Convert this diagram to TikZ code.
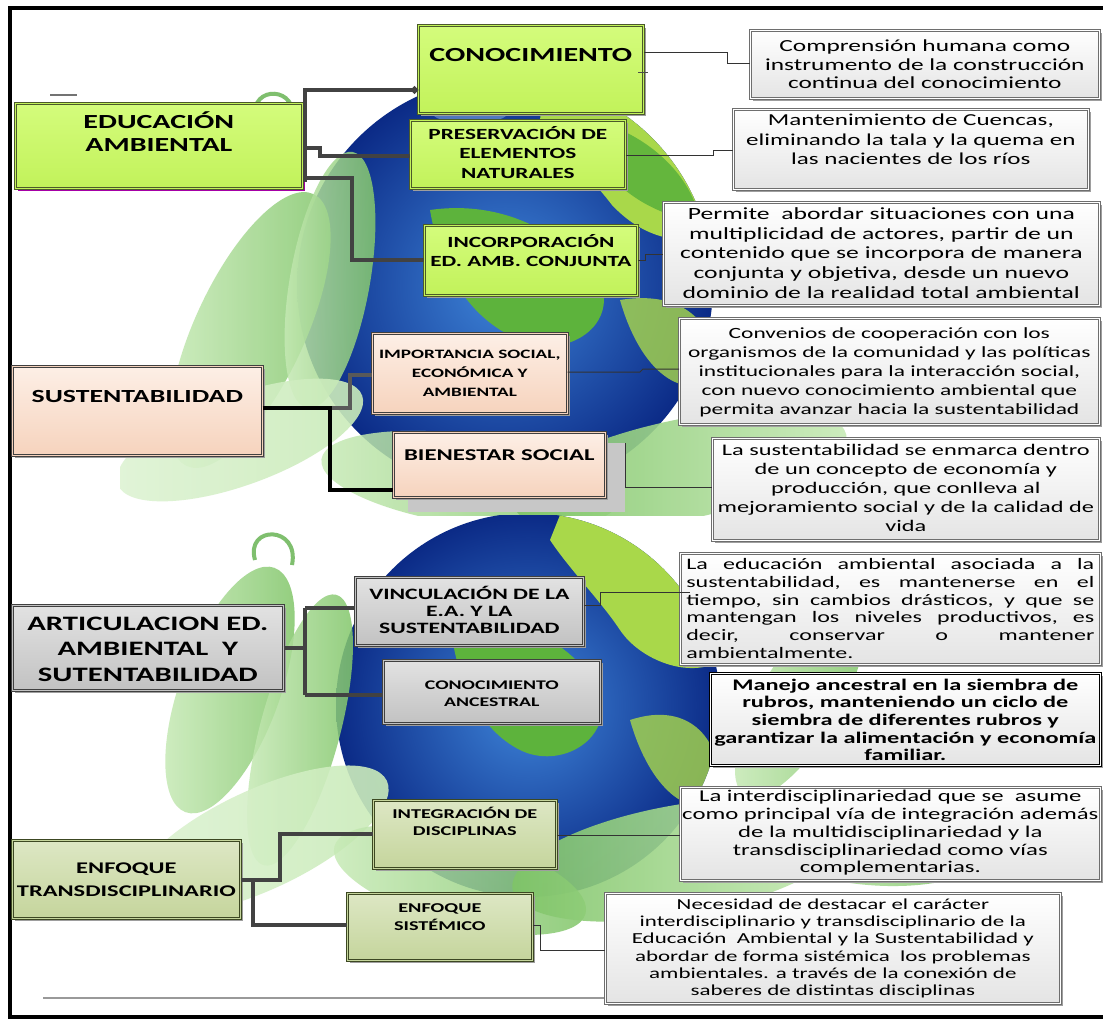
\documentclass[tikz,border=0pt]{standalone}
\usepackage{fontspec}
\setmainfont{Carlito}[FakeStretch=1.5]
\usetikzlibrary{arrows.meta,calc}
\definecolor{limeT}{HTML}{D4FC7C}
\definecolor{limeB}{HTML}{C2F25A}
\definecolor{gBorder}{HTML}{4B5A2A}
\definecolor{peachT}{HTML}{FDEFE6}
\definecolor{peachB}{HTML}{F6D3BD}
\definecolor{grayT}{HTML}{E2E2E2}
\definecolor{grayB}{HTML}{C2C2C2}
\definecolor{oliveT}{HTML}{DDE7C4}
\definecolor{oliveB}{HTML}{C5D59C}
\definecolor{calB}{HTML}{E4E4E4}
\definecolor{calBorder}{HTML}{6E6E6E}
\definecolor{connDark}{HTML}{424242}
\definecolor{globeIn}{HTML}{3F86DA}
\definecolor{globeOut}{HTML}{0B2A86}
\definecolor{landA}{HTML}{5DB33C}
\definecolor{landB}{HTML}{A9D84A}
\definecolor{leafA}{HTML}{C9EBB8}
\definecolor{leafB}{HTML}{7EC466}
\definecolor{leafC}{HTML}{5FAF4A}
\newcommand\rbox[6]{\node[#1, anchor=north west, minimum width={#4-#2}, minimum height={#5-#3}] (#6) at (#2,#3) {};}
\newcommand\fs[2]{\fontsize{#1}{#2}\selectfont}
\newcommand\jline[1]{\makebox[408pt][l]{#1}}
\begin{document}
\begin{tikzpicture}[x=1pt,y=-1pt,
  boxbase/.style={rectangle, inner sep=0pt, line width=0.7pt, double distance=1.4pt},
  shadowed/.style={preaction={fill=black!38, transform canvas={xshift=2.5pt,yshift=-2.5pt}}},
  greenbox/.style={boxbase, shadowed, draw=gBorder, double=limeB, top color=limeT, bottom color=limeB},
  peachbox/.style={boxbase, shadowed, draw=black!75, double=peachB, top color=peachT, bottom color=peachB},
  graybox/.style={boxbase, shadowed, draw=black!75, double=grayB, top color=grayT, bottom color=grayB},
  olivebox/.style={boxbase, shadowed, draw=gBorder!80!black, double=oliveB, top color=oliveT, bottom color=oliveB},
  callbox/.style={boxbase, shadowed, draw=calBorder, double=white, top color=white, bottom color=calB},
  txt/.style={inner sep=0pt, align=center, anchor=center},
  trunk/.style={line width=4pt, draw=connDark},
  thin/.style={line width=1pt, draw=black!80},
  leaf/.style={left color=leafA, right color=leafB, fill opacity=0.85}
]
\useasboundingbox (0,0) rectangle (1103,1026);
\fill[white] (0,0) rectangle (1103,1026);

% ---------------- background: top picture
\begin{scope}
\clip (120,60) rectangle (1000,515);
\shade[inner color=globeIn, outer color=globeOut] (505,285) circle (208);
\begin{scope}
\clip (505,285) circle (208);
\fill[landB] (545,80) .. controls (640,90) and (700,140) .. (716,230) .. controls (680,250) and (640,235) .. (612,205) .. controls (585,170) and (560,150) .. (540,120) -- cycle;
\fill[landA, opacity=.9] (590,120) .. controls (640,130) and (690,170) .. (700,220) .. controls (670,220) and (630,200) .. (610,175) -- cycle;
\fill[landA] (430,210) .. controls (500,200) and (560,230) .. (600,280) .. controls (620,330) and (560,360) .. (520,340) .. controls (470,320) and (440,270) .. cycle;
\fill[landB, opacity=.8] (620,300) .. controls (680,290) and (720,320) .. (715,380) .. controls (680,400) and (640,370) .. cycle;
\fill[globeIn!60!white, opacity=.5] (470,110) ellipse (40 and 14);
\end{scope}
\shade[leaf, rotate around={65:(250,330)}] (250,330) ellipse (150 and 55);
\shade[leaf, rotate around={80:(330,280)}] (330,280) ellipse (130 and 40);
\shade[left color=leafA!60!white, right color=leafA, fill opacity=.9, rotate around={20:(240,440)}] (240,440) ellipse (130 and 45);
\shade[leaf, rotate around={-8:(470,480)}] (470,480) ellipse (150 and 45);
\shade[left color=leafB, right color=leafA, fill opacity=.9, rotate around={12:(680,470)}] (680,470) ellipse (170 and 50);
\shade[leaf, rotate around={-5:(870,480)}] (870,480) ellipse (120 and 40);
\draw[leafC!80!white, line width=4pt] (255,118) .. controls (250,84) and (300,86) .. (292,122);
\end{scope}

% ---------------- background: bottom picture
\begin{scope}
\clip (120,515) rectangle (1000,935);
\shade[inner color=globeIn, outer color=globeOut] (528,705) circle (192);
\begin{scope}
\clip (528,705) circle (192);
\fill[landB] (560,515) .. controls (640,530) and (700,580) .. (722,660) .. controls (690,680) and (640,660) .. (620,630) .. controls (600,600) and (570,570) .. (550,540) -- cycle;
\fill[landA] (450,620) .. controls (510,610) and (570,640) .. (600,690) .. controls (615,740) and (560,770) .. (520,750) .. controls (480,730) and (455,680) .. cycle;
\fill[landB, opacity=.8] (630,720) .. controls (690,700) and (725,740) .. (720,800) .. controls (690,820) and (650,790) .. cycle;
\end{scope}
\shade[leaf, rotate around={70:(230,690)}] (230,690) ellipse (130 and 50);
\shade[leaf, rotate around={75:(300,730)}] (300,730) ellipse (140 and 40);
\shade[left color=leafA!60!white, right color=leafA, fill opacity=.9, rotate around={25:(260,840)}] (260,840) ellipse (140 and 50);
\shade[leaf, rotate around={-15:(460,880)}] (460,880) ellipse (130 and 45);
\shade[left color=leafB, right color=leafA, fill opacity=.9, rotate around={10:(680,860)}] (680,860) ellipse (170 and 55);
\shade[leaf, rotate around={-5:(870,840)}] (870,840) ellipse (120 and 45);
\shade[leaf, rotate around={60:(800,700)}] (800,700) ellipse (110 and 40);
\draw[leafC!80!white, line width=4pt] (255,560) .. controls (245,525) and (300,525) .. (292,565);
\end{scope}

% ---------------- frame (right side cut off)
\draw[line width=4pt] (1103,8) -- (10,8) -- (10,1017) -- (1103,1017);
\draw[black!55, line width=2pt] (50,95) -- (77,95);
\draw[black!40, line width=1.5pt] (43,998) -- (605,998);

% ---------------- section 1: EDUCACION AMBIENTAL
\rbox{greenbox, preaction={fill=violet!70!magenta, transform canvas={xshift=2.5pt,yshift=-2.5pt}}}{15}{103}{302}{188}{ea}
\node[txt, font=\fs{20}{23.3}\bfseries] (eaT) at ($(ea.center)+(0,-14)$) {EDUCACIÓN\\AMBIENTAL};
\rbox{greenbox}{418}{25}{643}{113}{con}
\node[txt, font=\fs{20}{24}\bfseries] (conT) at ($(con.center)+(0,-14)$) {CONOCIMIENTO};
\rbox{greenbox}{410}{120}{625}{188}{pres}
\node[txt, font=\fs{15.5}{19.5}\bfseries] (presT) at ($(pres.center)+(0,-2)$) {PRESERVACIÓN DE\\ELEMENTOS\\NATURALES};
\rbox{greenbox}{424}{225}{637}{295}{inc}
\node[txt, font=\fs{15.5}{19.5}\bfseries] (incT) at ($(inc.center)+(0,-10)$) {INCORPORACIÓN\\ED. AMB. CONJUNTA};

\rbox{callbox}{750}{30}{1099}{98}{c1}
\node[txt, font=\fs{16.9}{18.5}] (c1T) at ($(c1.center)+(0,0)$) {Comprensión humana como\\instrumento de la construcción\\continua del conocimiento};
\rbox{callbox}{733}{109}{1088}{189}{c2}
\node[txt, font=\fs{16.7}{19.3}] (c2T) at ($(c2.center)+(0,-10)$) {Mantenimiento de Cuencas,\\eliminando la tala y la quema en\\las nacientes de los ríos};
\rbox{callbox}{663}{202}{1099}{305}{c3}
\node[txt, font=\fs{17.1}{19.7}] (c3T) at ($(c3.center)+(0,-1)$) {Permite~ abordar situaciones con una\\multiplicidad de actores, partir de un\\contenido que se incorpora de manera\\conjunta y objetiva, desde un nuevo\\dominio de la realidad total ambiental};

\draw[trunk, -{Circle[length=7pt,width=7pt]}] (305,182) -- (305,90) -- (con.west |- 0,90);
\draw[trunk] (305,148) -- (320,148) -- (320,156) -- (pres.west |- 0,156);
\draw[trunk] (305,178) -- (352,178) |- (inc.west |- 0,260);
\draw[thin] (con.east |- 0,52) -- (727,52) |- (c1.west |- 0,63);
\draw[thin] (pres.east |- 0,155) -- (713,155) |- (c2.west |- 0,150);
\draw[thin] (inc.east |- 0,260) -- (645,260) |- (c3.west |- 0,254);
\draw[black!70, line width=1pt] (638,72) -- (648,72);

% ---------------- section 2: SUSTENTABILIDAD
\rbox{peachbox}{12}{366}{262}{455}{sus}
\node[txt, font=\fs{18.5}{21}\bfseries] (susT) at ($(sus.center)+(0,-14)$) {SUSTENTABILIDAD};
\rbox{peachbox}{372}{333}{567}{413}{imp}
\node[txt, font=\fs{12.8}{19}\bfseries] (impT) at ($(imp.center)+(0,0)$) {IMPORTANCIA SOCIAL,\\ECONÓMICA Y\\AMBIENTAL};
\fill[black!22] (408,443) rectangle (625,512);
\rbox{peachbox}{393}{432}{605}{497}{bien}
\node[txt, font=\fs{16.5}{20}\bfseries] (bienT) at ($(bien.center)+(0,-9.5)$) {BIENESTAR SOCIAL};

\rbox{callbox}{679}{318}{1099}{424}{c4}
\node[txt, font=\fs{15.6}{18.8}] (c4T) at ($(c4.center)+(0,1)$) {Convenios de cooperación con los\\organismos de la comunidad y las políticas\\institucionales para la interacción social,\\con nuevo conocimiento ambiental que\\permita avanzar hacia la sustentabilidad};
\rbox{callbox}{712}{438}{1099}{540}{c5}
\node[txt, font=\fs{16.2}{18.8}] (c5T) at ($(c5.center)+(0,-1.5)$) {La sustentabilidad se enmarca dentro\\de un concepto de economía y\\producción, que conlleva al\\mejoramiento social y de la calidad de\\vida};

\draw[trunk, draw=black!65] (330,408) -- (350,408) |- (imp.west |- 0,375);
\draw[trunk, draw=black] (sus.east |- 0,408) -- (330,408) |- (bien.west |- 0,490);
\draw[thin] (imp.east |- 0,372) -- (640,372) -- (643,369) -- (c4.west |- 0,369);
\draw[thin] (625,443) |- (c5.west |- 0,487);

% ---------------- section 3: ARTICULACION
\rbox{graybox}{12}{605}{283}{690}{art}
\node[txt, font=\fs{20.5}{25.5}\bfseries] (artT) at ($(art.center)+(0,1)$) {ARTICULACION ED.\\AMBIENTAL~ Y\\SUTENTABILIDAD};
\rbox{graybox}{355}{577}{583}{645}{vin}
\node[txt, font=\fs{15.8}{17.3}\bfseries] (vinT) at ($(vin.center)+(0,-1.5)$) {VINCULACIÓN DE LA\\E.A. Y LA\\SUSTENTABILIDAD};
\rbox{graybox}{383}{660}{600}{723}{anc}
\node[txt, font=\fs{13.2}{17}\bfseries] (ancT) at ($(anc.center)+(0,2)$) {CONOCIMIENTO\\ANCESTRAL};

\rbox{callbox}{680}{553}{1100}{664}{c6}
\node[txt, font=\fs{16}{17.7}, align=left] (c6T) at ($(c6.center)+(0,-0.5)$) {\jline{La\hfill educación\hfill ambiental\hfill asociada\hfill a\hfill la}\\\jline{sustentabilidad,\hfill es\hfill mantenerse\hfill en\hfill el}\\\jline{tiempo,\hfill sin\hfill cambios\hfill drásticos,\hfill y\hfill que\hfill se}\\\jline{mantengan\hfill los\hfill niveles\hfill productivos,\hfill es}\\\jline{decir,\hfill conservar\hfill o\hfill mantener}\\\jline{ambientalmente.\hfill}};
\rbox{callbox, draw=black}{710}{673}{1100}{765}{c7}
\node[txt, font=\fs{16.2}{17.7}\bfseries] (c7T) at ($(c7.center)+(0,0.5)$) {Manejo ancestral en la siembra de\\rubros, manteniendo un ciclo de\\siembra de diferentes rubros y\\garantizar la alimentación y economía\\familiar.};

\draw[trunk] (art.east |- 0,648) -- (305,648);
\draw[trunk] (305,608) -- (305,695);
\draw[trunk] (305,608) -- (vin.west |- 0,608);
\draw[trunk] (305,695) -- (anc.west |- 0,695);
\draw[thin] (vin.east |- 0,605) -- (600,605) |- (690,592);

% ---------------- section 4: ENFOQUE
\rbox{olivebox}{12}{840}{240}{918}{enf}
\node[txt, font=\fs{16.3}{23}\bfseries] (enfT) at ($(enf.center)+(0,0)$) {ENFOQUE\\TRANSDISCIPLINARIO};
\rbox{olivebox}{373}{800}{556}{868}{int}
\node[txt, font=\fs{13.5}{17}\bfseries] (intT) at ($(int.center)+(0,-13)$) {INTEGRACIÓN DE\\DISCIPLINAS};
\rbox{olivebox}{347}{893}{532}{960}{sis}
\node[txt, font=\fs{13.5}{17.5}\bfseries] (sisT) at ($(sis.center)+(0,-9.5)$) {ENFOQUE\\SISTÉMICO};

\rbox{callbox}{680}{787}{1100}{880}{c8}
\node[txt, font=\fs{16.5}{17.8}] (c8T) at ($(c8.center)+(0,-1)$) {La interdisciplinariedad que se~ asume\\como principal vía de integración además\\de la multidisciplinariedad y la\\transdisciplinariedad como vías\\complementarias.};
\rbox{callbox}{605}{893}{1060}{1003}{c9}
\node[txt, font=\fs{15.3}{17.2}] (c9T) at ($(c9.center)+(0,0)$) {Necesidad de destacar el carácter\\interdisciplinario y transdisciplinario de la\\Educación~ Ambiental y la Sustentabilidad y\\abordar de forma sistémica~ los problemas\\ambientales. a través de la conexión de\\saberes de distintas disciplinas};

\draw[trunk] (enf.east |- 0,880) -- (280,880) |- (int.west |- 0,834);
\draw[trunk] (253,880) |- (sis.west |- 0,925);
\draw[thin] (int.east |- 0,835) -- (c8.west |- 0,835);
\draw[thin] (sis.east |- 0,925) -- (540,925) |- (c9.west |- 0,950);
\end{tikzpicture}
\end{document}
